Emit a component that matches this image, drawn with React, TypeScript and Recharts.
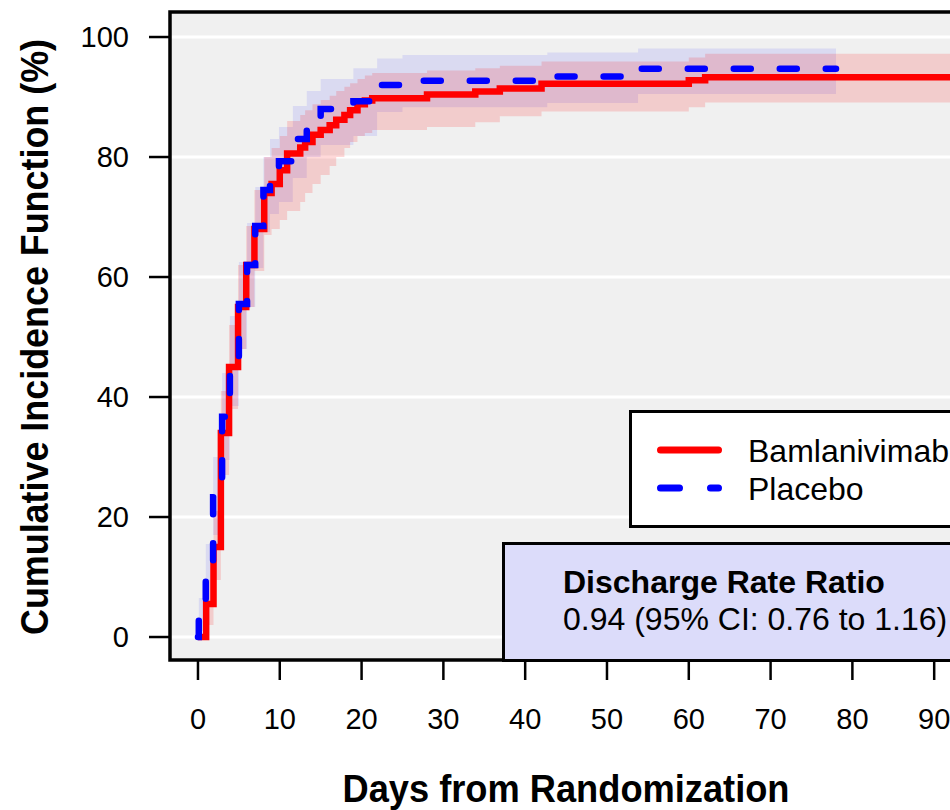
import React from "react";
import {
  ComposedChart, Line, Area, XAxis, YAxis, CartesianGrid, ReferenceArea, Label,
} from "recharts";

const FONT = '"Liberation Sans", Arial, Helvetica, sans-serif';

const xTicks = [0, 10, 20, 30, 40, 50, 60, 70, 80, 90];
const yTicks = [0, 20, 40, 60, 80, 100];

// Bamlanivimab (red, solid)
const bamDays = [0, 1.0, 1.9, 2.8, 3.8, 4.9, 5.9, 6.9, 8.1, 9.0, 10.0, 10.9, 12.5, 13.1, 14.0, 15.0, 16.1, 16.9, 17.9, 18.6, 19.5, 20.4, 21.3, 28.0, 33.9, 36.9, 42.0, 60.0, 62.0, 95.0];
const bamEst = [0, 5.5, 15, 34, 45, 55, 62, 68, 74, 75.5, 77.8, 80.6, 81.6, 82.5, 83.7, 84.5, 85.3, 86.2, 87.0, 87.8, 88.8, 89.4, 89.8, 90.4, 90.9, 91.4, 92.2, 92.8, 93.3, 93.3];
const bamLo = [0, 2, 9.5, 27, 38, 48, 55, 61, 67, 68, 69.5, 71, 72.5, 74, 75.5, 77, 78.5, 80, 81.5, 82.5, 83.5, 84, 84.5, 85.0, 85.8, 86.8, 87.6, 88.3, 89.1, 89.1];
const bamHi = [0, 9.5, 21, 41, 52, 62, 68.5, 74.5, 80, 81.5, 83.5, 86, 87, 87.8, 88.8, 89.5, 90.2, 91, 91.7, 92.3, 93.0, 93.6, 94.0, 94.4, 94.8, 95.2, 95.9, 96.6, 97.2, 97.2];

// Placebo (blue, dashed)
const pboDays = [0, 0.1, 0.95, 1.85, 2.95, 3.9, 5.0, 6.0, 7.0, 8.0, 8.8, 9.9, 11.6, 13.3, 15.0, 19.0, 21.9, 25.0, 42.7, 53.8, 78.0];
const pboEst = [0, 3.3, 10.5, 23.3, 36.7, 45.8, 55.5, 62, 68.5, 74.5, 77.3, 79.3, 83.0, 86.2, 88.0, 89.3, 92.0, 92.7, 93.4, 94.7, 94.7];
const pboLo = [0, 1, 6, 17, 29.5, 38.5, 48, 55, 61.5, 67.5, 70.5, 72.5, 76.5, 80, 82, 83.5, 87.5, 88.3, 89.0, 90.5, 90.5];
const pboHi = [0, 6.5, 15.5, 30, 44, 53.5, 62.5, 69, 75, 80, 83, 85, 88.5, 91, 93, 94.8, 96.4, 97.0, 97.4, 98.1, 98.1];

const bamRows = bamDays.map((d, i) => ({ day: d, est: bamEst[i], band: [bamLo[i], bamHi[i]] }));
const pboRows = pboDays.map((d, i) => ({ day: d, est: pboEst[i], band: [pboLo[i], pboHi[i]] }));

const X_DOMAIN: [number, number] = [-3.42, 92.3];
const Y_DOMAIN: [number, number] = [-3.83, 104.17];

const tickStyle = { fontSize: 29, fill: "#000", fontFamily: FONT };

export default function App() {
  return (
    <div style={{ position: "absolute", left: 0, top: 0, width: 950, height: 810, overflow: "hidden", background: "#fff", fontFamily: FONT }}>
      <ComposedChart width={970} height={810} margin={{ top: 12, right: 17, left: 0, bottom: 0 }}>
        <CartesianGrid vertical={false} stroke="#ffffff" strokeWidth={3} fill="#f0f0f0" fillOpacity={1} />
        <XAxis
          type="number"
          dataKey="day"
          domain={X_DOMAIN}
          allowDataOverflow
          ticks={xTicks}
          interval={0}
          height={150}
          axisLine={false}
          tickLine={{ stroke: "#000", strokeWidth: 2.5 }}
          tickSize={20}
          tickMargin={28}
          tick={tickStyle}
        >
          <Label
            content={() => (
              <text x={566} y={802} textAnchor="middle" fontSize={38} fontWeight="bold" fontFamily={FONT}
                textLength={447} lengthAdjust="spacingAndGlyphs" fill="#000">
                Days from Randomization
              </text>
            )}
          />
        </XAxis>
        <YAxis
          type="number"
          domain={Y_DOMAIN}
          allowDataOverflow
          ticks={yTicks}
          interval={0}
          width={170}
          axisLine={false}
          tickLine={{ stroke: "#000", strokeWidth: 2.5 }}
          tickSize={21}
          tickMargin={20}
          tick={tickStyle}
        >
          <Label
            content={() => (
              <text x={48} y={337} transform="rotate(-90 48 337)" textAnchor="middle" fontSize={39} fontWeight="bold"
                fontFamily={FONT} textLength={596} lengthAdjust="spacingAndGlyphs" fill="#000">
                Cumulative Incidence Function (%)
              </text>
            )}
          />
        </YAxis>

        <Area data={pboRows} dataKey="band" type="stepAfter" stroke="none" fill="#0000ff" fillOpacity={0.09} isAnimationActive={false} />
        <Area data={bamRows} dataKey="band" type="stepAfter" stroke="none" fill="#ff0000" fillOpacity={0.15} isAnimationActive={false} />
        <Line data={bamRows} dataKey="est" type="stepAfter" stroke="#ff0000" strokeWidth={6.5} dot={false} isAnimationActive={false} />
        <Line data={pboRows} dataKey="est" type="stepAfter" stroke="#0000ff" strokeWidth={6.5} strokeDasharray="17 29"
          strokeLinecap="round" dot={false} isAnimationActive={false} />

        <ReferenceArea x1={X_DOMAIN[0]} x2={X_DOMAIN[1]} y1={Y_DOMAIN[0]} y2={Y_DOMAIN[1]} fill="none" fillOpacity={0}
          stroke="#000" strokeWidth={3.5} ifOverflow="visible" />
      </ComposedChart>

      {/* legend */}
      <div style={{ position: "absolute", left: 629, top: 410, width: 400, height: 118, boxSizing: "border-box",
        border: "3.5px solid #000", background: "#fff" }} />
      <svg style={{ position: "absolute", left: 0, top: 0, pointerEvents: "none" }} width={950} height={810}>
        <line x1={660.5} y1={450} x2={718.5} y2={450} stroke="#ff0000" strokeWidth={7} strokeLinecap="round" />
        <line x1={660.5} y1={488} x2={718.5} y2={488} stroke="#0000ff" strokeWidth={7} strokeLinecap="round" strokeDasharray="19 31" />
        <text x={748} y={462} fontSize={32} fontFamily={FONT} fill="#000">Bamlanivimab</text>
        <text x={748} y={500} fontSize={32} fontFamily={FONT} fill="#000">Placebo</text>
      </svg>

      {/* rate ratio box */}
      <div style={{ position: "absolute", left: 502, top: 542, width: 500, height: 120, boxSizing: "border-box",
        border: "3.5px solid #000", background: "#dcdcfa" }} />
      <svg style={{ position: "absolute", left: 0, top: 0, pointerEvents: "none" }} width={950} height={810}>
        <text x={563} y={593} fontSize={32} fontWeight="bold" fontFamily={FONT} fill="#000">Discharge Rate Ratio</text>
        <text x={563} y={630} fontSize={32} fontFamily={FONT} fill="#000">0.94 (95% CI: 0.76 to 1.16)</text>
      </svg>
    </div>
  );
}
